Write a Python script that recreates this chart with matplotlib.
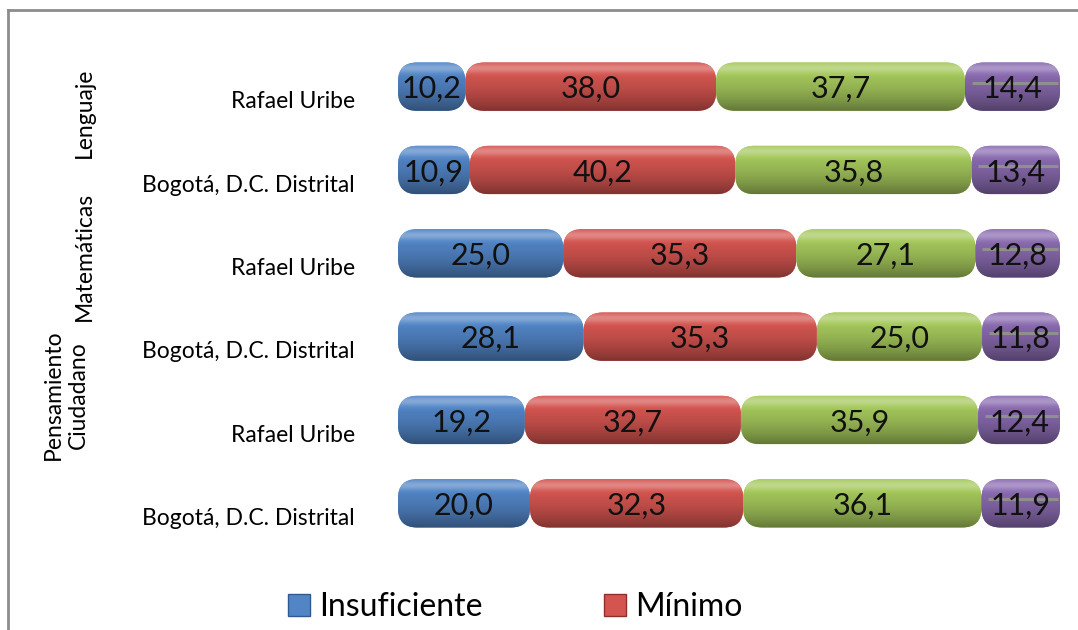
import numpy as np
import matplotlib
matplotlib.use("Agg")
import matplotlib.pyplot as plt
from matplotlib.patches import FancyBboxPatch, Patch
from matplotlib.lines import Line2D
from matplotlib.colors import to_rgb
import matplotlib.transforms as mtransforms

# Data
areas = ["Lenguaje", "Matemáticas", "Pensamiento\nCiudadano"]
area_pos = [0.31, 2.04, 3.70]
entidades = ["Rafael Uribe", "Bogotá, D.C. Distrital"] * 3
niveles = ["Insuficiente", "Mínimo", "Satisfactorio", "Avanzado"]
insuficiente = [10.2, 10.9, 25.0, 28.1, 19.2, 20.0]
minimo = [38.0, 40.2, 35.3, 35.3, 32.7, 32.3]
satisfactorio = [37.7, 35.8, 27.1, 25.0, 35.9, 36.1]
avanzado = [14.4, 13.4, 12.8, 11.8, 12.4, 11.9]
colores = ["#5285C6", "#D45550", "#A5C85C", "#8A6BB0"]

series = [insuficiente, minimo, satisfactorio, avanzado]
W, H = 1078, 630

fig = plt.figure(figsize=(W / 100, H / 100), dpi=100)
ax = fig.add_axes([398 / W, 1 - 545 / H, 662 / W, 500 / H])
ax.set_xlim(0, 100)
ax.set_ylim(5.5, -0.5)
ax.axis("off")

label_font = ["Lato", "DejaVu Sans"]
num_font = ["Lato", "DejaVu Sans"]

# rounding: same radius in pixels on both axes
px_x = 662 / 100
px_y = 500 / 6
r_px = 19
aspect = px_x / px_y

def shade(color, n=64):
    c = np.array(to_rgb(color))
    t = np.linspace(0, 1, n)
    m = 1.0 + 0.30 * np.exp(-((t - 0.12) / 0.10) ** 2) - 0.40 * t ** 2
    out = np.empty((n, 1, 3))
    for i, k in enumerate(m):
        if k >= 1:
            out[i, 0] = c + (1 - c) * (k - 1)
        else:
            out[i, 0] = c * k
    return np.clip(out, 0, 1)

ys = np.arange(len(entidades))
h = 0.58
totals = np.sum(series, axis=0)
left = np.zeros(len(entidades))
for j, (vals, col) in enumerate(zip(series, colores)):
    widths = np.array(vals) / totals * 100
    bars = ax.barh(ys, widths, left=left, height=h, color="none", label=niveles[j])
    grad = shade(col)
    for b, v in zip(bars, vals):
        x0, y0, w, hh = b.get_x(), b.get_y(), b.get_width(), b.get_height()
        patch = FancyBboxPatch((x0, y0), w, hh,
                               boxstyle=f"round,pad=0,rounding_size={r_px / px_x}",
                               mutation_aspect=aspect, facecolor=col,
                               edgecolor="none", zorder=2 + j * 0.01)
        ax.add_patch(patch)
        im = ax.imshow(grad, extent=(x0, x0 + w, y0 + hh, y0), aspect="auto",
                       origin="upper", zorder=2 + j * 0.01, interpolation="bilinear")
        im.set_clip_path(patch)
        if j == 3:
            ax.plot([x0 + 1.0, x0 + w - 0.3], [y0 + hh * 0.42] * 2,
                    color="#8f8f8f", lw=2.2, zorder=3, solid_capstyle="butt")
        ax.text(x0 + w / 2, y0 + hh / 2 + 0.03, f"{v:.1f}".replace(".", ","),
                ha="center", va="center", fontsize=22, family=num_font,
                color="#111111", zorder=5)
    left += widths

ax.set_xlim(0, 100)
ax.set_ylim(5.5, -0.5)

# row labels, shifted down a little like the reference
lab_trans = mtransforms.blended_transform_factory(ax.transAxes, ax.transData) + \
    mtransforms.ScaledTranslation(0, -0.15, fig.dpi_scale_trans)
for y, name in zip(ys, entidades):
    ax.text(-43 / 662, y, name, transform=lab_trans, ha="right", va="center",
            fontsize=16.5, family=label_font, clip_on=False)

# group labels
grp_trans = mtransforms.blended_transform_factory(fig.transFigure, ax.transData)
for name, y in zip(areas, area_pos):
    x = 66 / W if "\n" in name else 84 / W
    ax.text(x, y, name, transform=grp_trans, rotation=90, ha="center",
            va="center", fontsize=16.5, family=label_font, clip_on=False,
            linespacing=1.25)

# legend (only the first two entries fit in the picture)
handles = [Patch(facecolor=colores[0], edgecolor="#2f5a8f"),
           Patch(facecolor=colores[1], edgecolor="#8f2f2c")]
fig.legend(handles, niveles[:2], loc="center left",
           bbox_to_anchor=(288 / W, 1 - 607 / H), ncol=2, frameon=False,
           prop={"family": label_font, "size": 23}, handlelength=0.68,
           handleheight=0.68, handletextpad=0.3, columnspacing=3.8,
           borderaxespad=0, borderpad=0)

# chart frame (left and top edges visible)
fig.add_artist(Line2D([8 / W, 8 / W], [0, 1 - 10 / H], transform=fig.transFigure,
                      color="#8c8c8c", lw=2))
fig.add_artist(Line2D([8 / W, 1], [1 - 10 / H, 1 - 10 / H], transform=fig.transFigure,
                      color="#8c8c8c", lw=2))

fig.savefig("out.png", dpi=100)
